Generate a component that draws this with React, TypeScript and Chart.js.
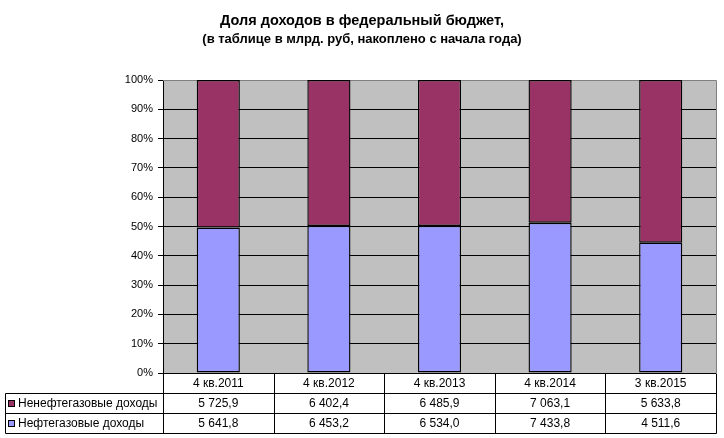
import React, { useEffect, useRef } from "react";
import { Chart, registerables } from "chart.js";

Chart.register(...registerables);

const titleLine1 = "Доля доходов в федеральный бюджет,";
const titleLine2 = "(в таблице в млрд. руб, накоплено с начала года)";
const categories = ["4 кв.2011", "4 кв.2012", "4 кв.2013", "4 кв.2014", "3 кв.2015"];
const nonOilName = "Ненефтегазовые доходы";
const oilName = "Нефтегазовые доходы";
const nonOilValues = [5725.9, 6402.4, 6485.9, 7063.1, 5633.8];
const oilValues = [5641.8, 6453.2, 6534.0, 7433.8, 4511.6];
const yTicks = [0, 10, 20, 30, 40, 50, 60, 70, 80, 90, 100];

const NON_OIL_COLOR = "#993366";
const OIL_COLOR = "#9999FF";
const FONT = "'Liberation Sans', Arial, sans-serif";

function fmt(v: number): string {
  const [i, d] = v.toFixed(1).split(".");
  return i.replace(/\B(?=(\d{3})+(?!\d))/g, " ") + "," + d;
}

const totals = oilValues.map((v, i) => v + nonOilValues[i]);
const oilPct = oilValues.map((v, i) => (v / totals[i]) * 100);
const nonOilPct = nonOilValues.map((v, i) => (v / totals[i]) * 100);

const decorPlugin = {
  id: "decor",
  beforeDraw(chart: any) {
    const { ctx, chartArea } = chart;
    ctx.save();
    ctx.fillStyle = "#ffffff";
    ctx.fillRect(0, 0, chart.width, chart.height);
    ctx.fillStyle = "#C0C0C0";
    ctx.fillRect(chartArea.left, chartArea.top, chartArea.right - chartArea.left, chartArea.bottom - chartArea.top);
    ctx.restore();
  },
  beforeDatasetsDraw(chart: any) {
    const { ctx, chartArea } = chart;
    ctx.save();
    ctx.strokeStyle = "#808080";
    ctx.lineWidth = 1;
    ctx.beginPath();
    ctx.moveTo(chartArea.left, Math.round(chartArea.top) + 0.5);
    ctx.lineTo(Math.round(chartArea.right) + 0.5, Math.round(chartArea.top) + 0.5);
    ctx.lineTo(Math.round(chartArea.right) + 0.5, chartArea.bottom);
    ctx.stroke();
    ctx.restore();
  },
  afterDraw(chart: any) {
    const { ctx, chartArea } = chart;
    const xs = chart.scales.x;
    const n = categories.length;
    const colW = (chartArea.right - chartArea.left) / n;
    const left = 5.5;
    const right = Math.round(chartArea.right) + 0.5;
    const y0 = Math.round(chartArea.bottom) + 0.5;
    const rowH = 20;
    const y1 = y0 + rowH;
    const y2 = y1 + rowH;
    const y3 = y2 + rowH;
    ctx.save();
    // title
    ctx.fillStyle = "#000";
    ctx.textAlign = "center";
    ctx.textBaseline = "middle";
    ctx.font = `bold 14.5px ${FONT}`;
    ctx.fillText(titleLine1, chart.width / 2, 21);
    ctx.font = `bold 13px ${FONT}`;
    ctx.fillText(titleLine2, chart.width / 2, 39);

    // table lines
    ctx.strokeStyle = "#000";
    ctx.lineWidth = 1;
    ctx.beginPath();
    for (let i = 0; i <= n; i++) {
      const x = Math.round(chartArea.left + i * colW) + 0.5;
      ctx.moveTo(x, y0);
      ctx.lineTo(x, y3);
    }
    ctx.moveTo(left, y1);
    ctx.lineTo(right, y1);
    ctx.moveTo(left, y2);
    ctx.lineTo(right, y2);
    ctx.moveTo(left, y3);
    ctx.lineTo(right, y3);
    ctx.moveTo(left, y1);
    ctx.lineTo(left, y3);
    ctx.stroke();

    // header and values
    ctx.font = `12px ${FONT}`;
    ctx.textAlign = "center";
    ctx.textBaseline = "middle";
    categories.forEach((c, i) => {
      const cx = xs.getPixelForValue(i);
      ctx.fillText(c, cx, y0 + rowH / 2);
      ctx.fillText(fmt(nonOilValues[i]), cx, y1 + rowH / 2);
      ctx.fillText(fmt(oilValues[i]), cx, y2 + rowH / 2);
    });

    // row labels with keys
    const rows = [
      { name: nonOilName, color: NON_OIL_COLOR, y: y1 },
      { name: oilName, color: OIL_COLOR, y: y2 },
    ];
    rows.forEach((r) => {
      const cy = Math.round(r.y + rowH / 2);
      ctx.fillStyle = r.color;
      ctx.fillRect(8, cy - 4, 7, 7);
      ctx.strokeStyle = "#000";
      ctx.strokeRect(8.5, cy - 3.5, 6, 6);
      ctx.fillStyle = "#000";
      ctx.textAlign = "left";
      ctx.fillText(r.name, 18, r.y + rowH / 2);
    });
    ctx.restore();
  },
};

export default function App() {
  const ref = useRef<HTMLCanvasElement | null>(null);
  useEffect(() => {
    if (!ref.current) return;
    const chart = new Chart(ref.current, {
      type: "bar",
      data: {
        labels: categories,
        datasets: [
          {
            label: oilName,
            data: oilPct,
            backgroundColor: OIL_COLOR,
            borderColor: "#000",
            borderWidth: 1.4,
            borderSkipped: false,
            barPercentage: 0.39,
            categoryPercentage: 1,
          },
          {
            label: nonOilName,
            data: nonOilPct,
            backgroundColor: NON_OIL_COLOR,
            borderColor: "#000",
            borderWidth: 1.4,
            borderSkipped: false,
            barPercentage: 0.39,
            categoryPercentage: 1,
          },
        ],
      },
      options: {
        responsive: false,
        animation: false,
        devicePixelRatio: 1,
        layout: { padding: { left: 0, top: 80, right: 8, bottom: 65 } },
        plugins: {
          legend: { display: false },
          title: { display: false },
          tooltip: { enabled: false },
        },
        scales: {
          x: {
            stacked: true,
            display: false,
          },
          y: {
            stacked: true,
            min: 0,
            max: 100,
            afterFit: (scale: any) => {
              scale.width = 163;
            },
            afterBuildTicks: (scale: any) => {
              scale.ticks = yTicks.map((v) => ({ value: v }));
            },
            ticks: {
              callback: (v: any) => v + "%",
              color: "#000",
              font: { family: FONT, size: 11 },
              padding: 5,
            },
            grid: {
              color: "#000",
              tickLength: 5,
              lineWidth: 1,
            },
            border: { color: "#000", width: 1 },
          },
        },
      },
      plugins: [decorPlugin],
    });
    return () => chart.destroy();
  }, []);
  return (
    <div style={{ position: "absolute", left: 0, top: 0, width: 724, height: 438 }}>
      <canvas ref={ref} width={724} height={438} />
    </div>
  );
}
